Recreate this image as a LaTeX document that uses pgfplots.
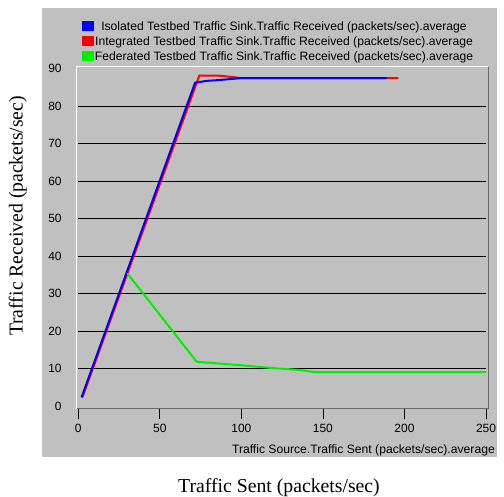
\documentclass[border=0pt]{standalone}
\usepackage{fontspec}
\setmainfont{Liberation Serif}
\newfontfamily\arial{Liberation Sans}
\usepackage{pgfplots}
\pgfplotsset{compat=1.18}
\definecolor{panel}{RGB}{192,192,192}
\definecolor{frameg}{RGB}{105,105,105}
\definecolor{lgreen}{RGB}{0,240,0}
\begin{document}
\begin{tikzpicture}
\useasboundingbox (0,0) rectangle (504bp,497bp);
\fill[panel] (42bp,40bp) rectangle (497bp,489bp);
\begin{axis}[
  at={(78.3bp,91bp)}, anchor=south west,
  scale only axis, width=407.7bp, height=337.5bp,
  xmin=0, xmax=250, ymin=0, ymax=90,
  clip=false,
  xtick={0,50,...,250},
  ytick={10,20,...,80}, extra y ticks={0,90}, extra y tick style={grid=none},
  ymajorgrids, grid style={black, line width=0.8bp},
  axis line style={draw=none},
  tick label style={font=\arial\fontsize{12}{14}\selectfont},
  /pgf/number format/assume math mode=true,
  tick align=outside,
  major tick length=10bp,
  x tick style={black, line width=0.8bp, yshift=-3bp},
  y tick style={draw=none},
  xtick pos=bottom, ytick pos=left,
  xticklabel style={yshift=-5bp},
  yticklabel style={xshift=-3.2bp},
  legend image code/.code={\fill[#1] (0bp,0.5bp) rectangle (11bp,9.5bp);},
  legend cell align=left,
  legend style={at={(axis description cs:0.009,1.142)}, anchor=north west,
    draw=none, fill=none, inner sep=0pt, outer sep=0pt,
    font=\arial\fontsize{12.2}{14}\selectfont,
    nodes={inner sep=0pt, anchor=base},
    row sep=3.9bp,
    /tikz/every odd column/.style={column sep=1.5bp}},
]
\draw[white, line width=1bp] (axis cs:-0.8,-0.8) -- (axis cs:-0.8,90.48) -- (axis cs:251.4,90.48);
\draw[frameg, line width=1bp] (axis cs:251.4,90.48) -- (axis cs:251.4,-0.8) -- (axis cs:-0.8,-0.8);
\addlegendimage{blue}
\addlegendimage{red}
\addlegendimage{lgreen}
\addplot[red, line width=2bp, forget plot] coordinates {
(2.5,2.3) (74.2,88.1) (85.8,88.1) (95.0,87.7) (100.2,87.4) (196.2,87.4)};
\addplot[blue, line width=2bp, forget plot] coordinates {
(2,2.3) (71.6,86.2) (78.7,86.7) (85.8,86.9) (99.1,87.4) (189.1,87.4)};
\addplot[lgreen, line width=2bp, forget plot] coordinates {
(30.0,35.4) (72.6,11.8) (99.1,10.9) (119.6,10.1) (136,9.6) (145.2,9.0) (250,9.0)};
\legend{Isolated Testbed Traffic Sink.Traffic Received (packets/sec).average,
Integrated Testbed Traffic Sink.Traffic Received (packets/sec).average,
Federated Testbed Traffic Sink.Traffic Received (packets/sec).average}
\end{axis}
\node[anchor=base east, font=\arial\fontsize{12.2}{14}\selectfont, inner sep=0pt] at (495bp,43bp) {Traffic Source.Traffic Sent (packets/sec).average};
\node[anchor=base, font=\fontsize{19.8}{22}\selectfont, inner sep=0pt] at (279bp,5bp) {Traffic Sent (packets/sec)};
\node[anchor=base, rotate=90, font=\fontsize{19.8}{22}\selectfont, inner sep=0pt] at (22.5bp,281bp) {Traffic Received (packets/sec)};
\end{tikzpicture}
\end{document}
